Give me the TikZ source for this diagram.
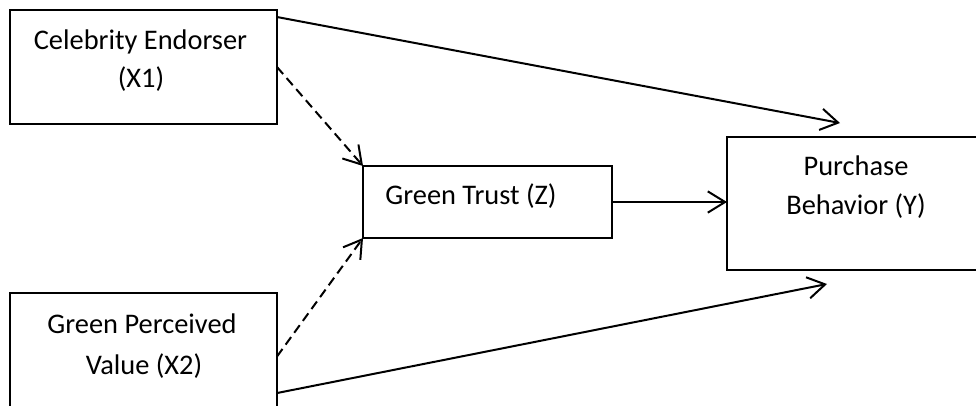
\documentclass[tikz,border=0pt]{standalone}
\usepackage{fontspec}
\setmainfont{Carlito}
\usetikzlibrary{arrows.meta}
\begin{document}
\begin{tikzpicture}[x=0.75pt,y=-0.75pt,
  box/.style={draw,line width=1.5pt,inner sep=0pt,outer sep=0pt,rectangle},
  lbl/.style={anchor=base,inner sep=0pt,font=\fontsize{21.3}{26}\selectfont},
  conn/.style={line width=1.5pt,-{Straight Barb[length=13pt,width=16pt,line width=1.5pt]}},
  dconn/.style={conn,dash pattern=on 7pt off 4pt}]
\useasboundingbox (0,0) rectangle (976,405);
\clip (0,0) rectangle (976,405);
\node[box,minimum width=200.25pt,minimum height=85.5pt] (x1) at (143.5,67) {};
\node[box,minimum width=200.25pt,minimum height=95.25pt] (x2) at (143.5,356.5) {};
\node[box,minimum width=186.75pt,minimum height=54pt] (z) at (487.5,202) {};
\node[box,minimum width=193.5pt,minimum height=99.75pt] (y) at (856,203.5) {};
\node[lbl] (x1a) at (140.5,49) {Celebrity Endorser};
\node[lbl] (x1b) at (141,87) {(X1)};
\node[lbl] (x2a) at (142,333) {Green Perceived};
\node[lbl] (x2b) at (144,374) {Value (X2)};
\node[lbl] (za) at (471,204) {Green Trust (Z)};
\node[lbl] (ya) at (856,175) {Purchase};
\node[lbl] (yb) at (856,214) {Behavior (Y)};
\coordinate (t1) at (840,123);
\coordinate (t2) at (827,284);
\draw[conn] ([yshift=-5.25pt]x1.north east) -- (t1);
\draw[conn] ([yshift=-27.4pt]x2.east) -- (t2);
\draw[dconn] (x1.east) -- (z.north west);
\draw[dconn] (x2.east) -- (z.south west);
\draw[conn] (z.east) -- (z.east -| y.west);
\end{tikzpicture}
\end{document}
